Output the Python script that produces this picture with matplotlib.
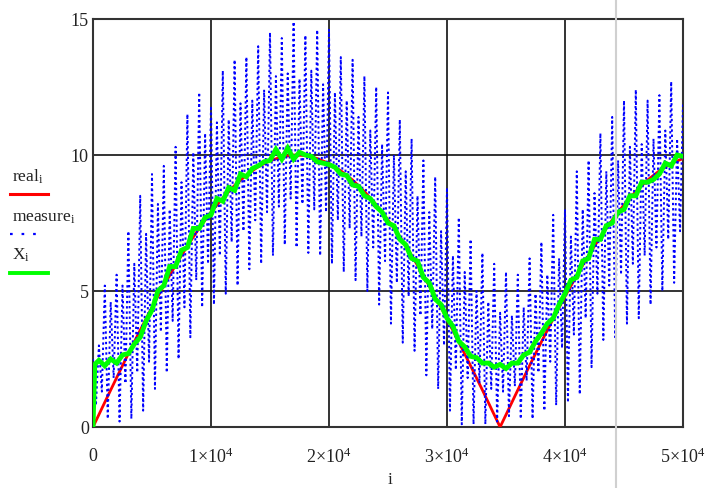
import numpy as np
import matplotlib
matplotlib.use("Agg")
import matplotlib.pyplot as plt
from matplotlib.lines import Line2D
from matplotlib.ticker import FixedLocator, FixedFormatter

plt.rcParams['font.family'] = ['Liberation Serif', 'DejaVu Serif']
plt.rcParams['mathtext.fontset'] = 'custom'
plt.rcParams['mathtext.rm'] = 'Liberation Serif'
plt.rcParams['mathtext.it'] = 'Liberation Serif:italic'

# true signal (red)
real_i = [0, 1000, 2000, 3000, 4000, 5000, 6000, 7000, 8000, 9000, 10000,
          11000, 12000, 13000, 14000, 15000, 16000, 17000, 18000, 19000, 20000,
          21000, 22000, 23000, 24000, 25000, 26000, 27000, 28000, 29000, 30000,
          31000, 32000, 33000, 34000, 34500, 35000, 36000, 37000, 38000, 39000,
          40000, 41000, 42000, 43000, 44000, 45000, 46000, 47000, 48000, 49000,
          50000]
real = [0.0, 0.91, 1.81, 2.70, 3.56, 4.40, 5.20, 5.95, 6.66, 7.31, 7.90,
        8.42, 8.88, 9.26, 9.57, 9.79, 9.93, 10.0, 9.98, 9.87, 9.69,
        9.42, 9.08, 8.66, 8.17, 7.61, 7.00, 6.31, 5.57, 4.79, 3.98,
        3.12, 2.25, 1.36, 0.45, 0.0, 0.45, 1.36, 2.26, 3.13, 3.98,
        4.80, 5.58, 6.31, 6.99, 7.61, 8.17, 8.66, 9.08, 9.42, 9.69,
        9.87]

# noisy measurement (blue), one value every 250 samples
measure_step = 250
measure = [2.5, 0.8, 3.0, 1.3, 5.2, 0.3, 4.6, 1.8, 5.6, 0.2,
           5.2, 1.6, 7.2, 0.3, 6.0, 2.0, 8.5, 0.6, 7.1, 2.4,
           9.3, 1.4, 8.2, 3.5, 9.6, 2.0, 8.0, 3.9, 10.3, 2.5,
           9.0, 4.4, 11.5, 3.3, 10.1, 5.4, 12.3, 4.4, 10.8, 6.0,
           11.8, 4.5, 11.2, 6.3, 13.1, 4.9, 11.3, 6.8, 13.5, 5.2,
           11.9, 7.2, 13.6, 5.8, 12.0, 7.6, 14.0, 6.0, 12.4, 7.9,
           14.5, 6.3, 12.9, 8.1, 14.3, 6.7, 13.0, 8.4, 14.9, 6.6,
           12.8, 8.2, 14.4, 6.4, 13.1, 8.0, 14.6, 6.3, 12.6, 7.9,
           14.6, 6.0, 12.3, 7.6, 13.6, 5.7, 12.0, 7.3, 13.5, 5.4,
           11.4, 7.0, 12.9, 5.0, 10.9, 6.6, 12.5, 4.5, 10.4, 6.1,
           12.3, 3.8, 10.0, 5.3, 11.3, 3.1, 9.4, 4.8, 10.6, 2.8,
           8.5, 4.1, 9.8, 1.9, 7.9, 3.6, 9.2, 1.4, 7.2, 3.0,
           8.8, 0.6, 6.3, 2.1, 7.7, 0.1, 5.7, 1.8, 6.9, 0.1,
           5.0, 1.6, 6.4, 0.1, 4.6, 1.4, 6.0, 0.2, 4.2, 1.3,
           5.7, 0.4, 4.1, 1.5, 5.6, 0.3, 4.4, 1.7, 6.2, 0.3,
           4.9, 2.0, 6.8, 0.6, 5.6, 2.4, 7.8, 0.8, 6.2, 2.9,
           8.0, 0.9, 7.0, 3.4, 9.4, 1.2, 8.0, 4.0, 9.8, 2.2,
           8.6, 4.9, 10.8, 3.2, 9.4, 5.2, 11.4, 3.3, 9.8, 5.6,
           12.0, 3.8, 10.3, 6.0, 12.4, 4.0, 10.4, 6.3, 12.0, 4.5,
           10.6, 6.6, 12.2, 5.0, 10.9, 6.9, 12.7, 5.3, 10.6, 7.2,
           11.9]

# filter estimate (green)
X_i = [0, 150] + list(range(500, 50001, 500))
X = [0.0, 2.3, 2.45, 2.25, 2.5, 2.35, 2.65, 2.7, 3.05, 3.3, 3.9,
     4.3, 5.0, 5.2, 5.9, 5.9, 6.5, 6.6, 7.3, 7.3, 7.7,
     7.8, 8.4, 8.3, 8.8, 8.7, 9.3, 9.2, 9.5, 9.6, 9.75,
     9.8, 10.2, 9.85, 10.25, 9.85, 10.1, 10.0, 9.95, 9.75, 9.7,
     9.65, 9.55, 9.3, 9.25, 8.9, 8.85, 8.5, 8.4, 8.1, 7.9,
     7.5, 7.4, 6.9, 6.7, 6.2, 6.1, 5.5, 5.3, 4.7, 4.5,
     4.0, 3.7, 3.15, 2.95, 2.6, 2.55, 2.35, 2.35, 2.2, 2.3,
     2.15, 2.35, 2.35, 2.65, 2.75, 3.15, 3.45, 3.8, 4.0, 4.5,
     4.9, 5.4, 5.5, 6.1, 6.2, 6.9, 6.9, 7.4, 7.5, 7.9,
     8.0, 8.5, 8.5, 9.0, 9.0, 9.1, 9.3, 9.7, 9.6, 10.0,
     9.95]

x_ticks = [0, 10000, 20000, 30000, 40000, 50000]
x_labels = ['0', r'$1{\times}10^{4}$', r'$2{\times}10^{4}$', r'$3{\times}10^{4}$',
            r'$4{\times}10^{4}$', r'$5{\times}10^{4}$']
y_ticks = [0, 5, 10, 15]
y_labels = ['0', '5', '10', '15']

fig = plt.figure(figsize=(7.09, 4.88), dpi=100)
ax = fig.add_axes([93 / 709, 1 - 427 / 488, 590 / 709, 408 / 488])

measure_i = np.arange(len(measure)) * measure_step
ax.plot(real_i, real, color='#ff0000', lw=2.0, zorder=3)
ax.plot(measure_i, measure, color='#0000ff', lw=1.4, linestyle=(0, (1.2, 1.5)), zorder=4)
ax.plot(X_i, X, color='#00ff00', lw=3.5, zorder=5, solid_joinstyle='miter')

ax.set_xlim(0, 50000)
ax.set_ylim(0, 15)
ax.xaxis.set_major_locator(FixedLocator(x_ticks))
ax.xaxis.set_major_formatter(FixedFormatter(x_labels))
ax.yaxis.set_major_locator(FixedLocator(y_ticks))
ax.yaxis.set_major_formatter(FixedFormatter(y_labels))
ax.tick_params(length=0, labelsize=13, colors='#222222')
ax.tick_params(axis='x', pad=15)
ax.tick_params(axis='y', pad=3)
ax.grid(True, color='#111111', lw=1.2)
ax.set_axisbelow(True)
for s in ax.spines.values():
    s.set_color('#333333')
    s.set_linewidth(1.5)

fig.text(390 / 709, 1 - 480 / 488, 'i', fontsize=12.5, ha='center', va='center', color='#222222')

# legend, drawn the Mathcad way on the left
fig.text(12 / 709, 1 - 182 / 488, r'$\mathrm{real}_{\mathrm{i}}$', fontsize=12.5, color='#222222')
fig.text(12 / 709, 1 - 222 / 488, r'$\mathrm{measure}_{\mathrm{i}}$', fontsize=12.5, color='#222222')
fig.text(12 / 709, 1 - 260 / 488, r'$\mathrm{X}_{\mathrm{i}}$', fontsize=12.5, color='#222222')
fig.add_artist(Line2D([10 / 709, 48 / 709], [1 - 194 / 488] * 2, color='#ff0000', lw=2.2))
fig.add_artist(Line2D([10 / 709, 40 / 709], [1 - 234 / 488] * 2, color='#0000ff', lw=1.6,
                      linestyle=(0, (1.2, 4))))
fig.add_artist(Line2D([10 / 709, 48 / 709], [1 - 273 / 488] * 2, color='#00ff00', lw=2.8))

# screen divider visible in the screenshot
fig.add_artist(Line2D([616 / 709] * 2, [0, 1], color='#d0d0d0', lw=1.5))

fig.savefig('out.png', dpi=100)
